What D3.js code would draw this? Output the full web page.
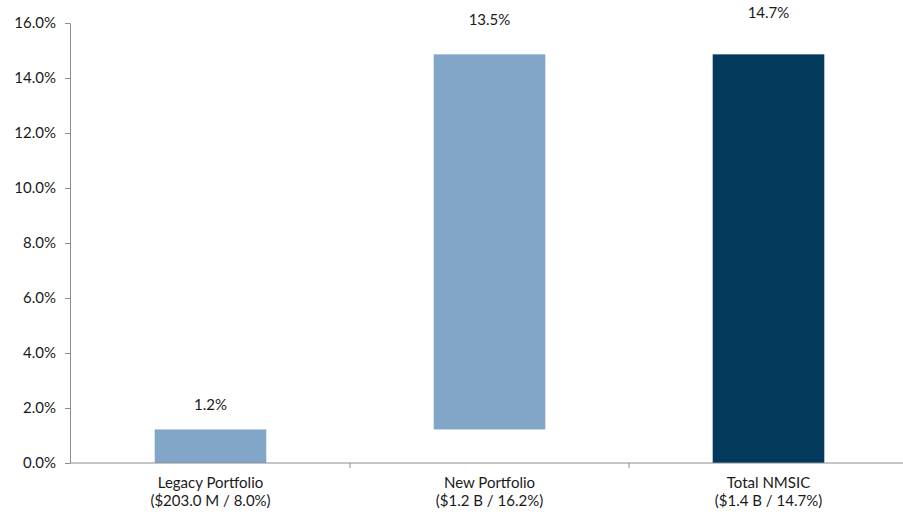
<!DOCTYPE html>
<html>
<head>
<style>
  body { margin: 0; background: #fff; }
  text { font-family: Lato, "Open Sans", sans-serif; fill: #1a1a1a; }
</style>
</head>
<body>
<div id="viz"></div>
<script src="https://d3js.org/d3.v7.min.js"></script>
<script>
  // data
  const categories = ["Legacy Portfolio", "New Portfolio", "Total NMSIC"];
  const subLabels = ["($203.0 M / 8.0%)", "($1.2 B / 16.2%)", "($1.4 B / 14.7%)"];
  const barStart = [0, 1.22, 0];
  const barEnd = [1.22, 14.86, 14.86];
  const valueLabels = ["1.2%", "13.5%", "14.7%"];
  const yTicks = [0, 2, 4, 6, 8, 10, 12, 14, 16];

  const colors = ["#81a6c8", "#81a6c8", "#033a5c"];
  const labelGap = [19, 29, 36];

  const width = 903, height = 512;
  const margin = {top: 23, right: 0, bottom: 49, left: 70};

  const svg = d3.select("#viz").append("svg")
      .attr("width", width)
      .attr("height", height);

  const x = d3.scaleBand()
      .domain(categories)
      .range([margin.left + 1, width + 5])
      .paddingInner(0.6)
      .paddingOuter(0.3);

  const y = d3.scaleLinear()
      .domain([0, 16])
      .range([height - margin.bottom, margin.top]);

  // y axis
  const yAxis = svg.append("g")
      .attr("transform", `translate(${margin.left},0)`)
      .call(d3.axisLeft(y).tickValues(yTicks).tickFormat(d => d.toFixed(1) + "%").tickSize(5).tickPadding(9).tickSizeOuter(0));
  yAxis.selectAll("line, path").attr("stroke", "#8c8c8c");
  yAxis.selectAll("text").style("font-size", "15px").attr("fill", "#1a1a1a");

  // bars
  svg.selectAll(".bar")
      .data(categories)
    .enter().append("rect")
      .attr("class", "bar")
      .attr("x", d => x(d))
      .attr("width", x.bandwidth())
      .attr("y", (d, i) => y(barEnd[i]))
      .attr("height", (d, i) => y(barStart[i]) - y(barEnd[i]))
      .attr("fill", (d, i) => colors[i]);

  // x axis line with ticks at category boundaries
  const x0 = y(0);
  svg.append("line")
      .attr("x1", margin.left).attr("x2", width)
      .attr("y1", x0).attr("y2", x0)
      .attr("stroke", "#8c8c8c");
  const step = x.step();
  const bounds = categories.map(d => x(d) - (step - x.bandwidth()) / 2);
  svg.selectAll(".xtick")
      .data(bounds.slice(1))
    .enter().append("line")
      .attr("x1", d => d).attr("x2", d => d)
      .attr("y1", x0).attr("y2", x0 + 5)
      .attr("stroke", "#8c8c8c");

  // category labels
  const cat = svg.selectAll(".cat")
      .data(categories)
    .enter().append("text")
      .attr("text-anchor", "middle")
      .style("font-size", "15px")
      .attr("x", d => x(d) + x.bandwidth() / 2);
  cat.append("tspan").attr("x", d => x(d) + x.bandwidth() / 2).attr("y", x0 + 25).text(d => d);
  cat.append("tspan").attr("x", d => x(d) + x.bandwidth() / 2).attr("y", x0 + 43).text((d, i) => subLabels[i]);

  // value labels
  svg.selectAll(".val")
      .data(categories)
    .enter().append("text")
      .attr("text-anchor", "middle")
      .style("font-size", "15px")
      .attr("x", d => x(d) + x.bandwidth() / 2)
      .attr("y", (d, i) => y(barEnd[i]) - labelGap[i])
      .text((d, i) => valueLabels[i]);
</script>
</body>
</html>
